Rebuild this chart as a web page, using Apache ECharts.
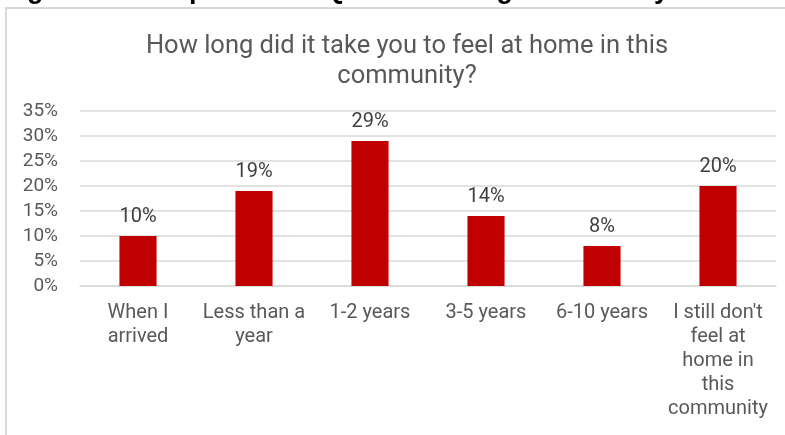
<!DOCTYPE html>
<html>
<head>
<meta charset="utf-8">
<script src="https://cdn.jsdelivr.net/npm/echarts@6/dist/echarts.min.js"></script>
<style>
  html, body { margin: 0; padding: 0; background: #ffffff; }
  #chart { width: 785px; height: 435px; }
</style>
</head>
<body>
<div id="chart"></div>
<script>
// Survey answers: time taken to feel at home
const categories = [
  'When I\narrived',
  'Less than a\nyear',
  '1-2 years',
  '3-5 years',
  '6-10 years',
  "I still don't\nfeel at\nhome in\nthis\ncommunity"
];
const shares = [10, 19, 29, 14, 8, 20];
const yTicks = [0, 5, 10, 15, 20, 25, 30, 35];

const chartTitle = 'How long did it take you to feel at home in this\ncommunity?';
const captionText = 'Figure 14: Responses to Q14: How long did it take you to feel at home in this community?';

const chart = echarts.init(document.getElementById('chart'), null, { renderer: 'canvas' });

const textGrey = '#595959';
const gridGrey = '#d9d9d9';
const font = 'Roboto, "Liberation Sans", sans-serif';

chart.setOption({
  animation: false,
  backgroundColor: '#ffffff',
  title: {
    text: chartTitle,
    left: 402,
    textAlign: 'center',
    top: 27,
    textStyle: {
      fontFamily: font,
      fontSize: 25.5,
      fontWeight: 'normal',
      color: textGrey,
      lineHeight: 30
    }
  },
  graphic: [
    {
      type: 'rect',
      shape: { x: 6, y: 8, width: 820, height: 460 },
      style: { fill: 'none', stroke: gridGrey, lineWidth: 2 },
      silent: true
    },
    {
      type: 'text',
      x: 3,
      y: -9,
      style: {
        text: captionText,
        font: 'bold 27px "Liberation Sans", Arial, sans-serif',
        fill: '#000000',
        verticalAlign: 'middle'
      },
      silent: true
    }
  ],
  grid: { left: 80, right: 9, top: 111, bottom: 149 },
  xAxis: {
    type: 'category',
    data: categories,
    axisLine: { show: true, lineStyle: { color: gridGrey, width: 1.5 } },
    axisTick: { show: false },
    axisLabel: {
      interval: 0,
      margin: 15,
      fontFamily: font,
      fontSize: 20,
      lineHeight: 24,
      color: textGrey,
      align: 'center'
    }
  },
  yAxis: {
    type: 'value',
    min: yTicks[0],
    max: yTicks[yTicks.length - 1],
    interval: yTicks[1] - yTicks[0],
    axisLine: { show: false },
    axisTick: { show: false },
    splitLine: { lineStyle: { color: gridGrey, width: 1.5 } },
    axisLabel: {
      margin: 22,
      fontFamily: font,
      fontSize: 19,
      color: textGrey,
      formatter: v => v + '%'
    }
  },
  series: [{
    type: 'bar',
    data: shares,
    barWidth: '32%',
    itemStyle: { color: '#c00000' },
    label: {
      show: true,
      position: 'top',
      distance: 9,
      fontFamily: font,
      fontSize: 20,
      color: '#404040',
      formatter: p => p.value + '%'
    }
  }]
});
</script>
</body>
</html>
